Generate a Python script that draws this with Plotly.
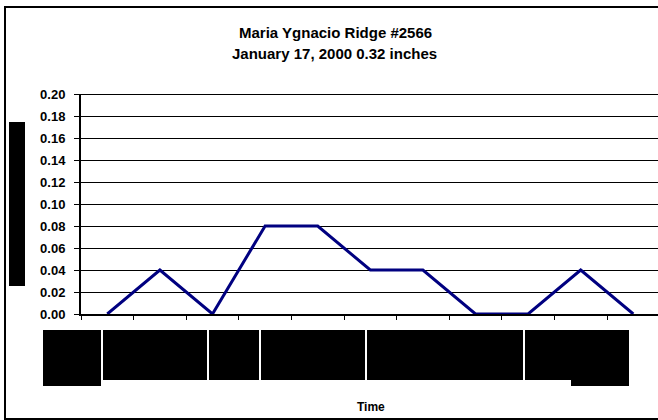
import plotly.graph_objects as go

# ---- data ----
title_line1 = "Maria Ygnacio Ridge #2566"
title_line2 = "January 17, 2000 0.32 inches"
x_title = "Time"
positions = list(range(11))
rainfall = [0.00, 0.04, 0.00, 0.08, 0.08, 0.04, 0.04, 0.00, 0.00, 0.04, 0.00]
y_ticks = [0.00, 0.02, 0.04, 0.06, 0.08, 0.10, 0.12, 0.14, 0.16, 0.18, 0.20]
y_tick_labels = [f"{v:.2f}" for v in y_ticks]

W, H = 658, 420
L, R, T, B = 81, 0, 94, 106
PW, PH = W - L - R, H - T - B
CAT_W = 52.6


def px(x):
    return (x - L) / PW


def py(y):
    return (H - B - y) / PH


FONT = "Liberation Sans, Arial, sans-serif"

fig = go.Figure()
fig.add_trace(go.Scatter(
    x=positions, y=rainfall, mode="lines",
    line=dict(color="#000080", width=3),
    showlegend=False, hoverinfo="skip",
))

shapes = []
# outer chart border
shapes.append(dict(type="rect", xref="paper", yref="paper",
                   x0=px(5), x1=px(668), y0=py(419), y1=py(7),
                   line=dict(color="black", width=2), fillcolor="rgba(0,0,0,0)"))
# top gridline (heavier)
shapes.append(dict(type="line", xref="paper", yref="y", x0=0, x1=1, y0=0.2, y1=0.2,
                   line=dict(color="black", width=2)))
# obscured y-axis title
shapes.append(dict(type="rect", xref="paper", yref="paper",
                   x0=px(9), x1=px(25), y0=py(286), y1=py(122),
                   fillcolor="black", line=dict(width=0)))
# obscured x tick labels
boxes = [
    (43, 101, 330, 386),
    (103, 207, 330, 380),
    (209, 259, 330, 380),
    (261, 365, 330, 380),
    (367, 523, 330, 380),
    (525, 629, 330, 380),
    (571, 629, 380, 386),
]
for x0, x1, y0, y1 in boxes:
    shapes.append(dict(type="rect", xref="paper", yref="paper",
                       x0=px(x0), x1=px(x1), y0=py(y1), y1=py(y0),
                       fillcolor="black", line=dict(width=0)))

annotations = [
    dict(text=title_line1, xref="paper", yref="paper",
         x=px(335), y=py(33), showarrow=False,
         font=dict(size=15, family=FONT, color="black", weight="bold"),
         xanchor="center", yanchor="middle"),
    dict(text=title_line2, xref="paper", yref="paper",
         x=px(334), y=py(53), showarrow=False,
         font=dict(size=15, family=FONT, color="black", weight="bold"),
         xanchor="center", yanchor="middle"),
    dict(text=x_title, xref="paper", yref="paper",
         x=px(371), y=py(407), showarrow=False,
         font=dict(size=12, family=FONT, color="black", weight="bold"),
         xanchor="center", yanchor="middle"),
]

fig.update_layout(
    width=W, height=H,
    margin=dict(l=L, r=R, t=T, b=B, pad=0),
    paper_bgcolor="white", plot_bgcolor="white",
    shapes=shapes, annotations=annotations,
    xaxis=dict(
        range=[-0.5, -0.5 + PW / CAT_W],
        tickvals=[i - 0.5 for i in range(12)],
        ticktext=[""] * 12,
        ticks="outside", ticklen=4, tickwidth=1, tickcolor="black",
        showgrid=False, zeroline=False,
        showline=True, linecolor="black", linewidth=2,
        fixedrange=True,
    ),
    yaxis=dict(
        range=[0, 0.2],
        tickvals=y_ticks, ticktext=y_tick_labels,
        ticks="outside", ticklen=5, tickwidth=1, tickcolor="black",
        tickfont=dict(family=FONT, size=13, color="black", weight="bold"),
        showgrid=True, gridcolor="black", gridwidth=1,
        zeroline=False,
        showline=True, linecolor="black", linewidth=2,
        ticklabelstandoff=6,
        fixedrange=True,
    ),
    font=dict(family=FONT, color="black"),
)

fig.write_html("out.html", config={"displayModeBar": False},
               post_script="document.body.style.margin='0';")
